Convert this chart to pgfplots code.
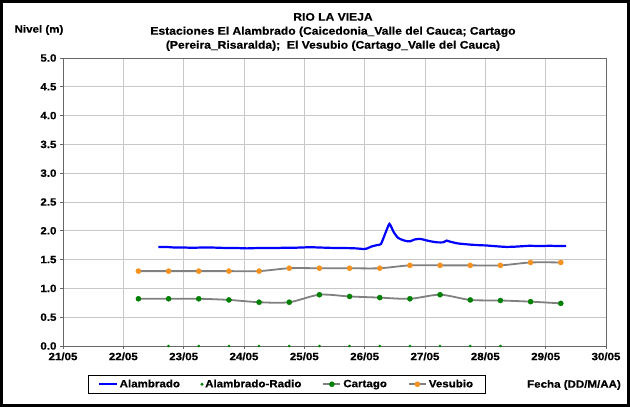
\documentclass[border=0pt]{standalone}
\usepackage{pgfplots}
\pgfplotsset{compat=1.18}
\usepackage{fontspec}
\setmainfont{Liberation Sans}[BoldFont={Liberation Sans Bold}, BoldFeatures={FakeStretch=1.1, FakeBold=0.6}]
\definecolor{cblue}{RGB}{0,0,255}
\definecolor{cgreen}{RGB}{0,128,0}
\definecolor{corange}{RGB}{245,145,30}
\definecolor{cgrayline}{RGB}{128,128,128}
\definecolor{cgrid}{RGB}{200,200,200}
\newcommand{\cf}{\fontsize{10.5}{12}\selectfont\bfseries}
\begin{document}
\begin{tikzpicture}[x=1pt,y=1pt]
\begin{axis}[
  at={(63pt,61pt)}, anchor=south west,
  scale only axis, width=543pt, height=288pt,
  xmin=0, xmax=9, ymin=0, ymax=5,
  xtick={0,1,...,9},
  xticklabels={21/05,22/05,23/05,24/05,25/05,26/05,27/05,28/05,29/05,30/05},
  ytick={0,0.5,...,5},
  yticklabel style={/pgf/number format/.cd,fixed,fixed zerofill,precision=1},
  /pgf/number format/assume math mode=true,
  tick label style={font=\cf},
  grid=major, major grid style={cgrid, line width=0.9pt},
  axis line style={cgrayline!80!black, line width=0.9pt},
  tick style={cgrayline!80!black, line width=0.8pt},
  tick align=outside, major tick length=3pt,
  xtick pos=bottom, ytick pos=left,
  legend columns=4,
  legend style={at={(0.046,-0.10)}, anchor=north west, font=\cf,
    draw=black, line width=0.8pt, inner xsep=10pt, inner ysep=2.5pt,
    /tikz/every even column/.append style={column sep=19pt}},
  legend cell align=left,
]
\addplot[cblue, line width=2.2pt, smooth, tension=0.3] coordinates {
(1.58,1.72)(1.70,1.72)(1.85,1.71)(2.00,1.71)(2.15,1.705)(2.30,1.71)(2.45,1.71)(2.60,1.705)
(2.75,1.70)(2.90,1.70)(3.05,1.695)(3.20,1.70)(3.35,1.70)(3.50,1.70)(3.65,1.705)(3.80,1.705)
(3.95,1.71)(4.10,1.715)(4.25,1.71)(4.40,1.705)(4.55,1.70)(4.70,1.70)(4.85,1.695)(4.97,1.685)
(5.03,1.69)(5.12,1.73)(5.20,1.75)(5.27,1.77)(5.34,1.95)(5.41,2.12)(5.48,1.98)(5.55,1.88)
(5.63,1.84)(5.70,1.82)(5.76,1.82)(5.83,1.85)(5.92,1.86)(6.00,1.84)(6.08,1.82)(6.20,1.80)
(6.30,1.80)(6.36,1.83)(6.42,1.81)(6.55,1.78)(6.75,1.76)(6.90,1.75)(7.02,1.745)(7.20,1.73)
(7.35,1.72)(7.50,1.725)(7.65,1.735)(7.74,1.74)(7.90,1.735)(8.07,1.74)(8.20,1.735)(8.34,1.735)
};
\addlegendentry{Alambrado}
\addplot[only marks, mark=*, mark size=1.1pt, cgreen] coordinates {
(1.75,0)(2.25,0)(2.75,0)(3.25,0)(3.75,0)(4.25,0)(4.75,0)(5.25,0)(5.75,0)(6.25,0)(6.75,0)(7.25,0)
};
\addlegendentry{Alambrado-Radio}
\addplot[cgrayline, line width=1.8pt, smooth, mark=*, mark size=2.6pt,
  mark options={fill=cgreen, draw=cgreen, line width=0.3pt, solid}] coordinates {
(1.25,0.82)(1.75,0.82)(2.25,0.82)(2.75,0.80)(3.25,0.76)(3.75,0.76)(4.25,0.89)(4.75,0.86)
(5.25,0.84)(5.75,0.82)(6.25,0.89)(6.75,0.80)(7.25,0.79)(7.75,0.77)(8.25,0.74)
};
\addlegendentry{Cartago}
\addplot[cgrayline, line width=1.8pt, smooth, mark=*, mark size=2.6pt,
  mark options={fill=corange, draw=corange, line width=0.3pt, solid}] coordinates {
(1.25,1.30)(1.75,1.30)(2.25,1.30)(2.75,1.30)(3.25,1.30)(3.75,1.35)(4.25,1.35)(4.75,1.35)
(5.25,1.35)(5.75,1.40)(6.25,1.40)(6.75,1.40)(7.25,1.40)(7.75,1.45)(8.25,1.45)
};
\addlegendentry{Vesubio}
\end{axis}
\node[font=\fontsize{11}{14}\selectfont\bfseries, align=center] at (333pt,375pt)
  {RIO LA VIEJA\\Estaciones El Alambrado (Caicedonia\_Valle del Cauca; Cartago\\(Pereira\_Risaralda);\ \ El Vesubio (Cartago\_Valle del Cauca)};
\node[font=\cf] at (39pt,377pt) {Nivel (m)};
\node[font=\cf] at (574pt,22pt) {Fecha (DD/M/AA)};
\draw[line width=3pt] (1.5pt,1.5pt) rectangle (628.5pt,405.5pt);
\end{tikzpicture}
\end{document}
